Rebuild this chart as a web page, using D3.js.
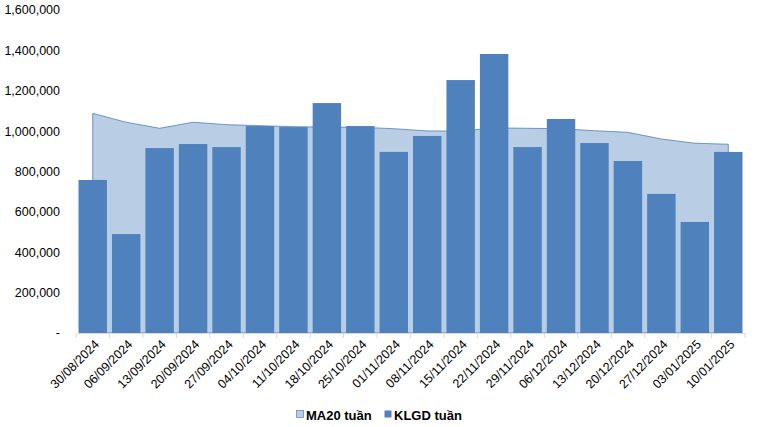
<!DOCTYPE html>
<html>
<head>
<meta charset="utf-8">
<script src="https://cdn.jsdelivr.net/npm/d3@7"></script>
<style>
  body { margin: 0; background: #fff; }
  svg { display: block; }
  text { font-family: "Liberation Sans", Arial, sans-serif; fill: #000; }
</style>
</head>
<body>
<svg id="chart"></svg>
<script>
const width = 760;
const height = 427;

// data
const weeks = ["30/08/2024", "06/09/2024", "13/09/2024", "20/09/2024", "27/09/2024",
  "04/10/2024", "11/10/2024", "18/10/2024", "25/10/2024", "01/11/2024",
  "08/11/2024", "15/11/2024", "22/11/2024", "29/11/2024", "06/12/2024",
  "13/12/2024", "20/12/2024", "27/12/2024", "03/01/2025", "10/01/2025"];
const klgd = [758000, 490000, 916000, 936000, 921000, 1025000, 1020000, 1139000, 1025000, 897000,
  976000, 1253000, 1382000, 921000, 1060000, 941000, 852000, 689000, 550000, 897000];
const ma20 = [1088000, 1044000, 1014000, 1044000, 1032000, 1027000, 1022000, 1020000, 1019000, 1012000,
  1001000, 1000000, 1016000, 1014000, 1012000, 1002000, 994000, 961000, 940000, 935000];
const yTicks = [0, 200000, 400000, 600000, 800000, 1000000, 1200000, 1400000, 1600000];

const margin = { top: 10, right: 15, bottom: 94, left: 76 };
const innerWidth = width - margin.left - margin.right;
const innerHeight = height - margin.top - margin.bottom;

const svg = d3.select("#chart")
  .attr("width", width)
  .attr("height", height);

const graph = svg.append("g")
  .attr("transform", `translate(${margin.left}, ${margin.top})`);

const x = d3.scaleBand()
  .domain(weeks)
  .range([0, innerWidth])
  .paddingInner(0.15)
  .paddingOuter(0.075);

const xc = d => x(d) + x.bandwidth() / 2;

const y = d3.scaleLinear()
  .domain([0, 1600000])
  .range([innerHeight, 0]);

// y labels (no axis line)
const fmt = d3.format(",");
graph.append("g")
  .selectAll("text")
  .data(yTicks)
  .join("text")
  .attr("x", -16)
  .attr("y", d => y(d))
  .attr("dy", "0.35em")
  .attr("text-anchor", "end")
  .style("font-size", "12.5px")
  .text(d => d === 0 ? "-" : fmt(d));

// MA20 area
const rows = weeks.map((w, i) => ({ w, v: ma20[i] }));
const area = d3.area()
  .x(d => xc(d.w))
  .y0(innerHeight)
  .y1(d => y(d.v));

graph.append("path")
  .datum(rows)
  .attr("d", area)
  .attr("fill", "#B9CDE5")
  .attr("stroke", "#4F81BD")
  .attr("stroke-width", 0.8);

// bars
graph.selectAll(".bar")
  .data(weeks)
  .join("rect")
  .attr("class", "bar")
  .attr("x", d => x(d))
  .attr("y", (d, i) => y(klgd[i]))
  .attr("width", x.bandwidth())
  .attr("height", (d, i) => innerHeight - y(klgd[i]))
  .attr("fill", "#4F81BD");

// x axis
const xAxis = d3.axisBottom(x).tickSize(0).tickFormat("");
const gx = graph.append("g")
  .attr("transform", `translate(0, ${innerHeight})`)
  .call(xAxis);
gx.select(".domain").attr("stroke", "#D9D9D9");

// tick marks on category boundaries
const step = x.step();
graph.append("g")
  .selectAll("line")
  .data(d3.range(weeks.length + 1))
  .join("line")
  .attr("x1", i => i * step)
  .attr("x2", i => i * step)
  .attr("y1", innerHeight)
  .attr("y2", innerHeight + 5)
  .attr("stroke", "#D9D9D9");

graph.append("g")
  .selectAll("text")
  .data(weeks)
  .join("text")
  .attr("transform", d => `translate(${xc(d) + 4}, ${innerHeight + 9}) rotate(-45)`)
  .attr("text-anchor", "end")
  .attr("dy", "0.35em")
  .style("font-size", "12.5px")
  .text(d => d);

// legend
const legend = svg.append("g")
  .attr("transform", "translate(296, 415)");
const items = [
  { name: "MA20 tuần", fill: "#B9CDE5", stroke: "#4F81BD", x: 0 },
  { name: "KLGD tuần", fill: "#4F81BD", stroke: "none", x: 88 }
];
items.forEach(it => {
  legend.append("rect")
    .attr("x", it.x + 0.5)
    .attr("y", -4.5)
    .attr("width", 7)
    .attr("height", 7)
    .attr("fill", it.fill)
    .attr("stroke", it.stroke)
    .attr("stroke-width", 0.7);
  legend.append("text")
    .attr("x", it.x + 10)
    .attr("y", 0)
    .attr("dy", "0.35em")
    .style("font-size", "13px")
    .style("font-weight", "bold")
    .text(it.name);
});
</script>
</body>
</html>
